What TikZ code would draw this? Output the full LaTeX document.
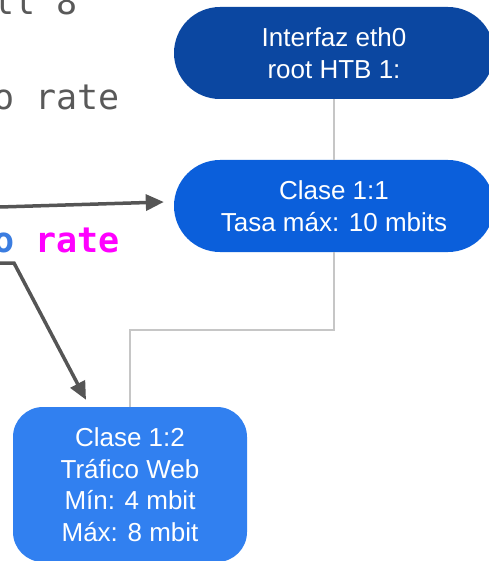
\documentclass[tikz,border=0pt]{standalone}
\usepackage{fontspec}
\setmainfont{Liberation Sans}
\setmonofont{DejaVu Sans Mono}
\usetikzlibrary{arrows.meta}
\definecolor{rootblue}{HTML}{0B47A1}
\definecolor{classblue}{HTML}{0B5FDB}
\definecolor{leafblue}{HTML}{3180F0}
\definecolor{codegray}{HTML}{595959}
\definecolor{kwblue}{HTML}{3B7DE0}
\definecolor{kwmagenta}{HTML}{FF00FF}
\definecolor{treegray}{HTML}{C6C6C6}
\definecolor{pointer}{HTML}{555555}
\tikzset{
  classnode/.style={text=white, align=center, inner sep=0pt,
    font=\fontsize{26}{31.5}\selectfont},
  codeline/.style={anchor=base west, inner sep=0pt, text=codegray,
    font=\fontsize{35}{47}\selectfont\ttfamily},
  treeline/.style={draw=treegray, line width=2pt},
  pointerarrow/.style={draw=pointer, line width=3.5pt,
    -{Triangle[length=18pt,width=16pt]}}
}
\begin{document}
\begin{tikzpicture}[x=1pt,y=-1pt]
\useasboundingbox (0,0) rectangle (488,561);

% fragments of the tc command lines
\node[codeline] (code1) at (-7,15) {ll 8};
\node[codeline] (code2) at (-7,110) {o rate};
\node[codeline, font=\fontsize{35}{47}\selectfont\ttfamily\bfseries] (code3) at (-7,252)
  {\textcolor{kwblue}{o} \textcolor{kwmagenta}{rate}};

% HTB class tree
\node[classnode, fill=rootblue, minimum width=320pt, minimum height=92pt,
  rounded corners=46pt] (root) at (334,53) {Interfaz eth0\\root HTB 1:};
\node[classnode, fill=classblue, minimum width=320pt, minimum height=92pt,
  rounded corners=46pt] (c11) at (334,206) {Clase 1:1\\Tasa máx: 10 mbits};
\node[classnode, fill=leafblue, minimum width=234pt, minimum height=155pt,
  rounded corners=30pt] (c12) at (130,484.5)
  {Clase 1:2\\Tráfico Web\\Mín: 4 mbit\\Máx: 8 mbit};

\draw[treeline] (root.south) -- (c11.north);
\draw[treeline] (c11.south) -- ++(0,78) -| (c12.north);

% pointers from the command lines to their classes
\coordinate (from11) at (0,207);
\coordinate (from12) at (0,263);
\draw[pointerarrow] (from11) -- ([xshift=-10pt,yshift=4pt]c11.west);
\draw[pointerarrow, line join=miter] (from12) -- ++(14,0) -- ([xshift=-44pt,yshift=7pt]c12.north);
\end{tikzpicture}
\end{document}
